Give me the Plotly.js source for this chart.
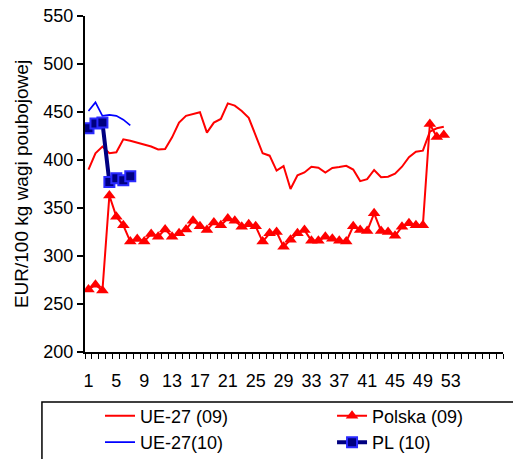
<!DOCTYPE html>
<html>
<head>
<meta charset="utf-8">
<script src="https://cdn.plot.ly/plotly-3.0.1.min.js"></script>
<style>html,body{margin:0;padding:0;background:#fff;}#chart{width:513px;height:459px;}</style>
</head>
<body>
<div id="chart"></div>
<script>
// Week numbers (category axis 1..60)
const weeks = Array.from({length: 60}, (_, i) => i + 1);
const tickLabels = [1, 5, 9, 13, 17, 21, 25, 29, 33, 37, 41, 45, 49, 53];

// UE-27 (09)
const ue27_09 = [390, 407, 414, 407, 408, 421.5, 420, 418, 415.6, 414,
  411, 411.5, 423.6, 439, 446, 447.6, 449.7, 428.5, 439, 442.7,
  459, 456.6, 451, 444, 425, 407, 404.5, 389, 393.7, 369.8,
  384, 387, 393, 392, 387, 391.7, 392.7, 394, 390, 378,
  380, 389.6, 382, 382.6, 385.7, 393, 403, 408.6, 409.7, 429.5,
  433, 434.7];
// Polska (09)
const polska_09 = [265, 270, 264, 363, 341, 332, 315, 317.7, 315, 323,
  320, 327.7, 320, 323.6, 327.7, 336.8, 331, 327, 335, 332,
  339, 336.8, 330.5, 333, 331, 315, 323.6, 325, 309.7, 317,
  323.6, 327, 316, 316, 320, 318, 316, 315, 331, 327,
  326, 344.5, 326, 325, 321, 330.5, 334, 332, 332, 437.5,
  424, 426];
// UE-27(10)
const ue27_10 = [451, 460, 446, 447, 446, 442, 436];
// PL (10)
const pl_10 = [433, 438, 439, 377, 381, 379, 383];

const FONT = 'Liberation Sans, Arial, sans-serif';

const traces = [
  {x: weeks.slice(0, ue27_09.length), y: ue27_09, name: 'UE-27 (09)', type: 'scatter', mode: 'lines',
   line: {color: '#FF0000', width: 2}, legend: 'legend'},
  {x: weeks.slice(0, polska_09.length), y: polska_09, name: 'Polska (09)', type: 'scatter', mode: 'lines+markers',
   line: {color: '#FF0000', width: 2}, marker: {symbol: 'triangle-up', size: 11, color: '#FF0000'}, legend: 'legend2'},
  {x: weeks.slice(0, ue27_10.length), y: ue27_10, name: 'UE-27(10)', type: 'scatter', mode: 'lines',
   line: {color: '#0000FF', width: 1.7}, legend: 'legend'},
  {x: weeks.slice(0, pl_10.length), y: pl_10, name: 'PL (10)', type: 'scatter', mode: 'lines+markers',
   line: {color: '#000080', width: 4}, marker: {symbol: 'square', size: 10, color: '#000080', line: {color: '#2a2aff', width: 2}}, legend: 'legend2'}
];

const layout = {
  width: 513, height: 459,
  margin: {l: 85, r: 10, t: 16, b: 107, autoexpand: false},
  paper_bgcolor: '#ffffff', plot_bgcolor: '#ffffff',
  font: {family: FONT, size: 18, color: '#000'},
  showlegend: true,
  xaxis: {
    range: [0.5, 60.5], tickmode: 'array', tickvals: tickLabels, ticktext: tickLabels.map(String),
    ticks: '', showgrid: false, zeroline: false, showline: true, linecolor: '#000', linewidth: 1.5,
    ticklabelstandoff: 12,
    minor: {tickmode: 'linear', tick0: 0.5, dtick: 1, ticks: 'outside', ticklen: 5, tickcolor: '#000', tickwidth: 1, showgrid: false},
    tickfont: {size: 18, family: FONT}
  },
  yaxis: {
    range: [200, 550], tickmode: 'linear', tick0: 200, dtick: 50,
    ticks: 'outside', ticklen: 6, tickwidth: 1.5, tickcolor: '#000',
    showgrid: false, zeroline: false, showline: true, linecolor: '#000', linewidth: 2,
    tickfont: {size: 18, family: FONT},
    title: {text: 'EUR/100 kg wagi poubojowej', font: {size: 19, family: FONT}, standoff: 10}
  },
  legend: {x: 0.0359, y: -0.1355, xanchor: 'left', yanchor: 'top', orientation: 'v', bgcolor: 'rgba(0,0,0,0)',
    font: {size: 18, family: FONT}, tracegroupgap: 0, itemwidth: 30},
  legend2: {x: 0.591, y: -0.1355, xanchor: 'left', yanchor: 'top', orientation: 'v', bgcolor: 'rgba(0,0,0,0)',
    font: {size: 18, family: FONT}, tracegroupgap: 0, itemwidth: 30},
  shapes: [
    {type: 'rect', xref: 'paper', yref: 'paper', x0: -0.103, x1: 1.06, y0: -0.149, y1: -0.45,
     line: {color: '#000', width: 1.5}, fillcolor: 'rgba(0,0,0,0)', layer: 'below'}
  ]
};

Plotly.newPlot('chart', traces, layout, {displayModeBar: false, staticPlot: true});
</script>
</body>
</html>
